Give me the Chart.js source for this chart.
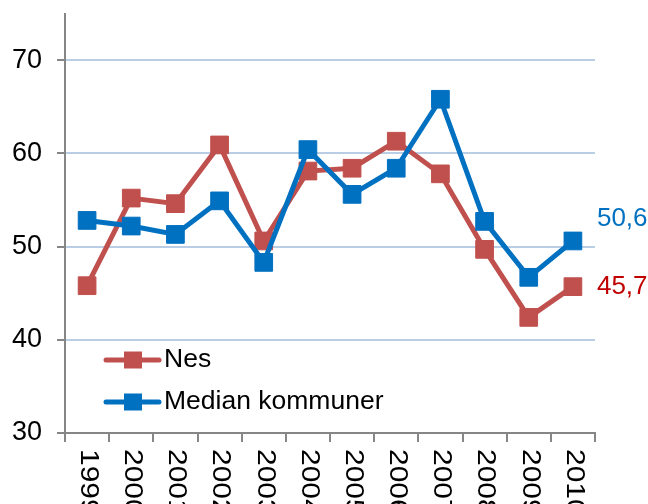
<!DOCTYPE html>
<html>
<head>
<meta charset="utf-8">
<script src="https://cdn.jsdelivr.net/npm/chart.js@4"></script>
<style>
  html, body { margin: 0; padding: 0; background: #fff; }
  #wrap { width: 648px; height: 504px; }
</style>
</head>
<body>
<div id="wrap"><canvas id="canvas" width="648" height="504"></canvas></div>
<script>
var years = ['1999', '2000', '2001', '2002', '2003', '2004', '2005', '2006', '2007', '2008', '2009', '2010'];
var nes = [45.8, 55.2, 54.6, 60.9, 50.6, 58.1, 58.4, 61.3, 57.8, 49.7, 42.4, 45.7];
var median = [52.8, 52.2, 51.3, 54.9, 48.3, 60.4, 55.6, 58.4, 65.8, 52.7, 46.7, 50.6];
var yTicks = [30, 40, 50, 60, 70];

var FONT = '"Liberation Sans", Arial, sans-serif';
var RED = '#C0504D';
var BLUE = '#0070C0';
var GRAY = '#868686';

// x labels are written top to bottom, so draw them by hand
var rotatedLabels = {
    id: 'rotatedLabels',
    afterDraw: function(chart) {
        var ctx = chart.ctx;
        var x = chart.scales.x;
        ctx.save();
        ctx.font = '26px ' + FONT;
        ctx.fillStyle = '#000';
        ctx.textAlign = 'left';
        ctx.textBaseline = 'middle';
        years.forEach(function(y, i) {
            ctx.save();
            ctx.translate(x.getPixelForValue(i) + 1, 449);
            ctx.rotate(Math.PI / 2);
            ctx.scale(1.15, 1);
            ctx.fillText(y, 0, 0);
            ctx.restore();
        });
        ctx.restore();
    }
};

// value labels after the last point
var endLabels = {
    id: 'endLabels',
    afterDatasetsDraw: function(chart) {
        var ctx = chart.ctx;
        var shift = [0, -22];
        var textColors = ['#C00000', BLUE];
        ctx.save();
        ctx.font = '26px ' + FONT;
        ctx.textAlign = 'left';
        ctx.textBaseline = 'middle';
        chart.data.datasets.forEach(function(ds, i) {
            var meta = chart.getDatasetMeta(i);
            var pt = meta.data[meta.data.length - 1];
            var v = ds.data[ds.data.length - 1];
            ctx.fillStyle = textColors[i];
            ctx.fillText(v.toFixed(1).replace('.', ','), pt.x + 24, pt.y + shift[i]);
        });
        ctx.restore();
    }
};

// legend sits inside the plot, lower left
var innerLegend = {
    id: 'innerLegend',
    afterDraw: function(chart) {
        var ctx = chart.ctx;
        var rows = [360, 402];
        ctx.save();
        ctx.font = '26.5px ' + FONT;
        ctx.textBaseline = 'middle';
        ctx.textAlign = 'left';
        chart.data.datasets.forEach(function(ds, i) {
            var y = rows[i];
            ctx.strokeStyle = ds.borderColor;
            ctx.lineWidth = 5;
            ctx.lineCap = 'round';
            ctx.beginPath();
            ctx.moveTo(106, y);
            ctx.lineTo(159, y);
            ctx.stroke();
            ctx.fillStyle = ds.backgroundColor;
            ctx.fillRect(124, y - 8.5, 18, 17);
            ctx.fillStyle = '#000';
            ctx.fillText(ds.label, 164, y);
        });
        ctx.restore();
    }
};

var ctx = document.getElementById('canvas').getContext('2d');
var myChart = new Chart(ctx, {
    type: 'line',
    data: {
        labels: years,
        datasets: [{
            label: 'Nes',
            data: nes,
            borderColor: RED,
            backgroundColor: RED,
            borderWidth: 5,
            pointStyle: 'rect',
            pointRadius: 12.5,
            pointBorderWidth: 1,
            order: 1
        },
        {
            label: 'Median kommuner',
            data: median,
            borderColor: BLUE,
            backgroundColor: BLUE,
            borderWidth: 5,
            pointStyle: 'rect',
            pointRadius: 12.5,
            pointBorderWidth: 1,
            order: 0
        }]
    },
    options: {
        responsive: false,
        animation: false,
        layout: { padding: { left: 0, top: 12, right: 53, bottom: 0 } },
        elements: { line: { tension: 0 } },
        plugins: {
            legend: { display: false },
            tooltip: { enabled: false }
        },
        scales: {
            x: {
                offset: true,
                afterFit: function(s) { s.height = 71; s.paddingLeft = 0; s.paddingRight = 0; },
                grid: {
                    offset: true,
                    drawOnChartArea: false,
                    drawTicks: true,
                    tickLength: 9,
                    tickColor: GRAY,
                    lineWidth: 2
                },
                border: { color: GRAY, width: 2 },
                ticks: { display: false }
            },
            y: {
                min: 30,
                max: 75,
                afterFit: function(s) { s.width = 65; s.paddingTop = 0; s.paddingBottom = 0; },
                afterBuildTicks: function(s) {
                    s.ticks = yTicks.map(function(v) { return { value: v }; });
                },
                grid: {
                    color: function(c) { return c.tick && c.tick.value === 30 ? GRAY : '#B9CDE5'; },
                    lineWidth: 2,
                    tickLength: 8,
                    tickColor: GRAY
                },
                border: { color: GRAY, width: 2 },
                ticks: {
                    padding: 15,
                    color: '#000',
                    font: { family: FONT, size: 27 }
                }
            }
        }
    },
    plugins: [rotatedLabels, endLabels, innerLegend]
});
</script>
</body>
</html>
